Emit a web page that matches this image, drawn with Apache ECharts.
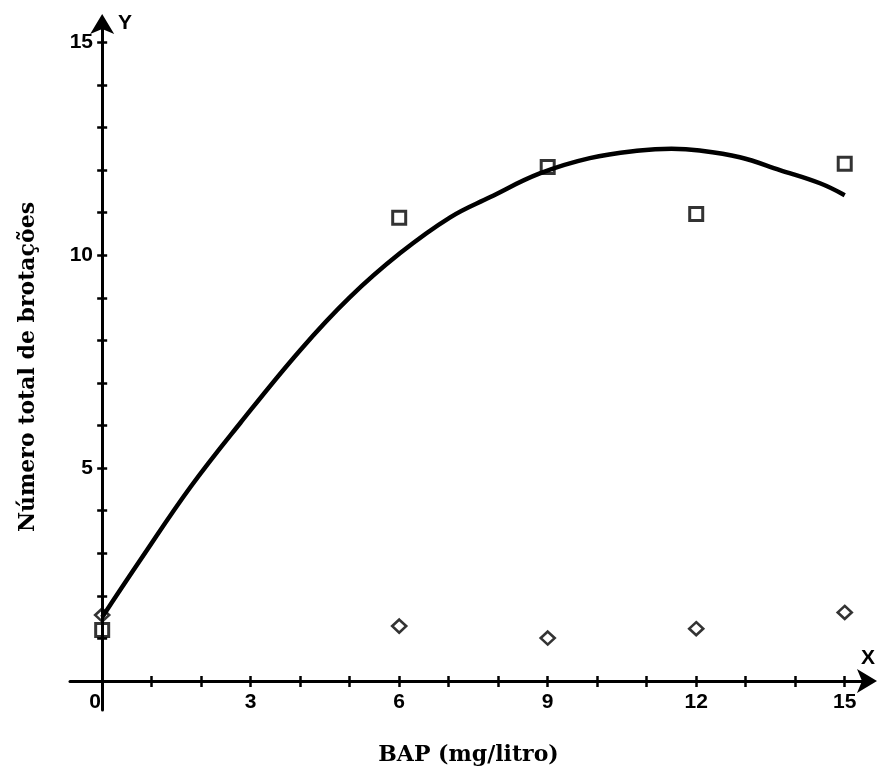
<!DOCTYPE html>
<html><head><meta charset="utf-8">
<script src="https://cdn.jsdelivr.net/npm/echarts@6/dist/echarts.min.js"></script>
<style>html,body{margin:0;padding:0;background:#fff}#c{width:877px;height:773px}</style>
</head><body><div id="c"></div>
<script>
// fitted curve
const curveX = [0, 0.77, 1.78, 2.79, 4.0, 5.0, 6.02, 7.03, 7.83, 8.84, 9.85, 10.86, 11.5, 12.07, 12.88, 13.69, 14.5, 15.0];
const curveY = [1.5, 2.84, 4.55, 6.06, 7.77, 9.01, 10.05, 10.89, 11.36, 11.92, 12.28, 12.46, 12.5, 12.46, 12.3, 12.0, 11.69, 11.41];
// observed points
const doseX = [0, 6, 9, 12, 15];
const squareY = [1.2, 10.88, 12.07, 10.97, 12.15];
const diamondY = [1.55, 1.29, 1.01, 1.23, 1.61];
// ticks
const xTicks = [0,1,2,3,4,5,6,7,8,9,10,11,12,13,14,15];
const xTickLabels = [0,3,6,9,12,15];
const yTicks = [0,1,2,3,4,5,6,7,8,9,10,11,12,13,14,15];
const yTickLabels = [5,10,15];

const xTitle = 'BAP (mg/litro)';
const yTitle = 'Número total de brotações';

const zip = (a, b) => a.map((v, i) => [v, b[i]]);
const tickFont = { color: '#000', fontFamily: 'Liberation Sans, Arial, sans-serif', fontWeight: 'bold', fontSize: 21 };
const titleFont = { color: '#000', fontFamily: 'DejaVu Serif, serif', fontWeight: 'bold', fontSize: 22 };

const chart = echarts.init(document.getElementById('c'), null, { renderer: 'canvas' });
chart.setOption({
  backgroundColor: '#fff',
  animation: false,
  grid: { left: 70, right: 10, top: 24, bottom: 63, containLabel: false, outerBoundsMode: 'none' },
  xAxis: [{
    type: 'value', min: -0.65, max: 15.45, position: 'bottom',
    name: xTitle, nameLocation: 'middle', nameGap: 34, nameMoveOverlap: false, nameTextStyle: titleFont,
    axisLine: { show: true, onZero: true, symbol: ['none', 'arrow'], symbolSize: [18, 20], symbolOffset: [0, 10], lineStyle: { color: '#000', width: 3 } },
    axisTick: { show: true, customValues: xTicks, length: 6, inside: false, lineStyle: { color: '#000', width: 2.5 } },
    axisLabel: { show: true, customValues: xTickLabels, margin: -18, ...tickFont,
      formatter: v => v === 0 ? '{z|0}' : String(v),
      rich: { z: { ...tickFont, padding: [0, 14, 0, 0] } } },
    splitLine: { show: false }
  }, {
    type: 'value', min: -0.65, max: 15.45, position: 'bottom',
    axisLine: { show: false, onZero: true },
    axisTick: { show: true, customValues: xTicks, length: 5, inside: true, lineStyle: { color: '#000', width: 2.5 } },
    axisLabel: { show: false }, splitLine: { show: false }
  }],
  yAxis: [{
    type: 'value', min: -0.68, max: 15.43, position: 'left',
    name: yTitle, nameLocation: 'middle', nameRotate: 90, nameGap: 31, nameMoveOverlap: false, nameTextStyle: titleFont,
    axisLine: { show: true, onZero: true, symbol: ['none', 'arrow'], symbolSize: [18, 20], symbolOffset: [0, 10], lineStyle: { color: '#000', width: 3 } },
    axisTick: { show: true, customValues: yTicks, length: 5, inside: false, lineStyle: { color: '#000', width: 2.5 } },
    axisLabel: { show: true, customValues: yTickLabels, margin: -23, ...tickFont },
    splitLine: { show: false }
  }, {
    type: 'value', min: -0.68, max: 15.43, position: 'left',
    axisLine: { show: false, onZero: true },
    axisTick: { show: true, customValues: yTicks, length: 5, inside: true, lineStyle: { color: '#000', width: 2.5 } },
    axisLabel: { show: false }, splitLine: { show: false }
  }],
  graphic: [
    { type: 'text', left: 861, top: 648, style: { text: 'X', fill: '#000', font: 'bold 21px Liberation Sans, Arial, sans-serif' } },
    { type: 'text', left: 118, top: 13, style: { text: 'Y', fill: '#000', font: 'bold 21px Liberation Sans, Arial, sans-serif' } }
  ],
  series: [{
    type: 'line', xAxisIndex: 0, yAxisIndex: 0, data: zip(curveX, curveY), smooth: 0.4,
    showSymbol: false, symbol: 'none', lineStyle: { color: '#000', width: 4.5 }, z: 2
  }, {
    type: 'scatter', xAxisIndex: 0, yAxisIndex: 0, data: zip(doseX, squareY), symbol: 'rect', symbolSize: 13,
    itemStyle: { color: 'rgba(0,0,0,0)', borderColor: '#000', borderWidth: 3 }, z: 3
  }, {
    type: 'scatter', xAxisIndex: 0, yAxisIndex: 0, data: zip(doseX, diamondY), symbol: 'diamond', symbolSize: [14, 13],
    itemStyle: { color: 'rgba(0,0,0,0)', borderColor: '#000', borderWidth: 2.6 }, z: 3
  }]
});
</script>
</body></html>
